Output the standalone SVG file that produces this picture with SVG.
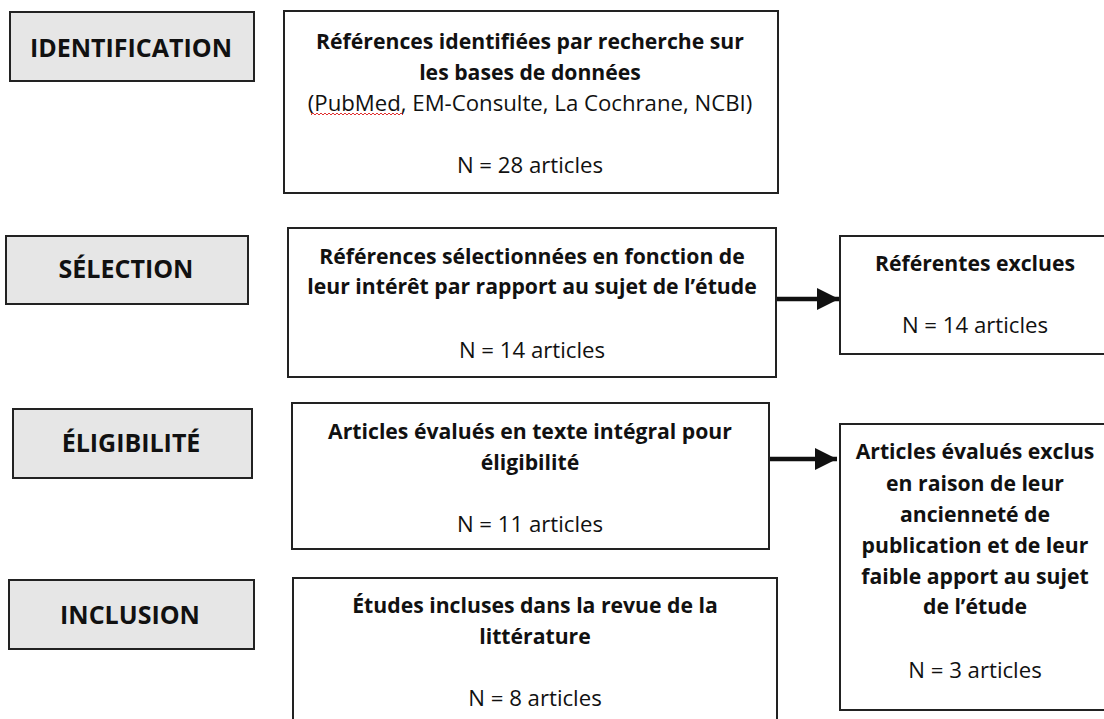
<svg xmlns="http://www.w3.org/2000/svg" width="1104" height="719" viewBox="0 0 1104 719">
<style>
.lab rect{fill:#e6e6e6;stroke:#222;stroke-width:2}
.box rect{fill:#fff;stroke:#222;stroke-width:2}
.lab text{font-family:"Open Sans",Lato,sans-serif;font-weight:bold;font-size:25px;fill:#111;text-anchor:middle}
.b{font-family:"Open Sans",Lato,sans-serif;font-weight:bold;font-size:21.2px;fill:#111;text-anchor:middle}
.r{font-family:"Open Sans",Lato,sans-serif;font-size:22.2px;fill:#111;text-anchor:middle}
.conn line{stroke:#111;stroke-width:4.5}
</style>
<defs>
<marker id="ah" markerWidth="5" markerHeight="5" refX="4" refY="2" orient="auto" markerUnits="strokeWidth" viewBox="0 0 4 4">
<path d="M0,0 L4,2 L0,4 Z" fill="#111"/>
</marker>
</defs>
<rect width="1104" height="719" fill="#fff"/>
<g id="lab-identification" class="lab"><rect x="10" y="12" width="244" height="69"/><text x="131" y="57">IDENTIFICATION</text></g>
<g id="lab-selection" class="lab"><rect x="6" y="236" width="242" height="68"/><text x="126" y="278">SÉLECTION</text></g>
<g id="lab-eligibilite" class="lab"><rect x="13" y="409" width="239" height="69"/><text x="131" y="452">ÉLIGIBILITÉ</text></g>
<g id="lab-inclusion" class="lab"><rect x="9" y="580" width="245" height="69"/><text x="130" y="624">INCLUSION</text></g>

<g id="box-identification" class="box"><rect x="284" y="11" width="494" height="182"/>
<text class="b" x="530" y="49">Références identifiées par recherche sur</text>
<text class="b" x="530" y="80">les bases de données</text>
<text class="r" x="530" y="111">(PubMed, EM-Consulte, La Cochrane, NCBI)</text>
<path d="M311,115 l2,-2 l2,2 l2,-2 l2,2 l2,-2 l2,2 l2,-2 l2,2 l2,-2 l2,2 l2,-2 l2,2 l2,-2 l2,2 l2,-2 l2,2 l2,-2 l2,2 l2,-2 l2,2 l2,-2 l2,2 l2,-2 l2,2 l2,-2 l2,2 l2,-2 l2,2 l2,-2 l2,2 l2,-2 l2,2 l2,-2 l2,2 l2,-2 l2,2 l2,-2 l2,2 l2,-2 l2,2 l2,-2 l2,2 l2,-2 l2,2 l2,-2 l2,2" fill="none" stroke="#e03030" stroke-width="1"/>
<text class="r" x="530" y="173">N = 28 articles</text></g>

<g id="box-selection" class="box"><rect x="288" y="228" width="488" height="149"/>
<text class="b" x="532" y="264">Références sélectionnées en fonction de</text>
<text class="b" x="532" y="294">leur intérêt par rapport au sujet de l’étude</text>
<text class="r" x="532" y="358">N = 14 articles</text></g>

<g id="box-eligibilite" class="box"><rect x="292" y="403" width="477" height="146"/>
<text class="b" x="530" y="439">Articles évalués en texte intégral pour</text>
<text class="b" x="530" y="470">éligibilité</text>
<text class="r" x="530" y="532">N = 11 articles</text></g>

<g id="box-inclusion" class="box"><rect x="293" y="578" width="484" height="150"/>
<text class="b" x="535" y="613">Études incluses dans la revue de la</text>
<text class="b" x="535" y="644">littérature</text>
<text class="r" x="535" y="706">N = 8 articles</text></g>

<g id="box-exclues" class="box"><rect x="840" y="236" width="270" height="118"/>
<text class="b" x="975" y="271">Référentes exclues</text>
<text class="r" x="975" y="333">N = 14 articles</text></g>

<g id="box-exclus-eligibilite" class="box"><rect x="840" y="424" width="270" height="286"/>
<text class="b" x="975" y="459">Articles évalués exclus</text>
<text class="b" x="975" y="491">en raison de leur</text>
<text class="b" x="975" y="522">ancienneté de</text>
<text class="b" x="975" y="553">publication et de leur</text>
<text class="b" x="975" y="584">faible apport au sujet</text>
<text class="b" x="975" y="614">de l’étude</text>
<text class="r" x="975" y="678">N = 3 articles</text></g>

<g id="connectors" class="conn">
<line x1="777" y1="299" x2="839" y2="299" marker-end="url(#ah)"/>
<line x1="770" y1="459" x2="837" y2="459" marker-end="url(#ah)"/>
</g>
</svg>
